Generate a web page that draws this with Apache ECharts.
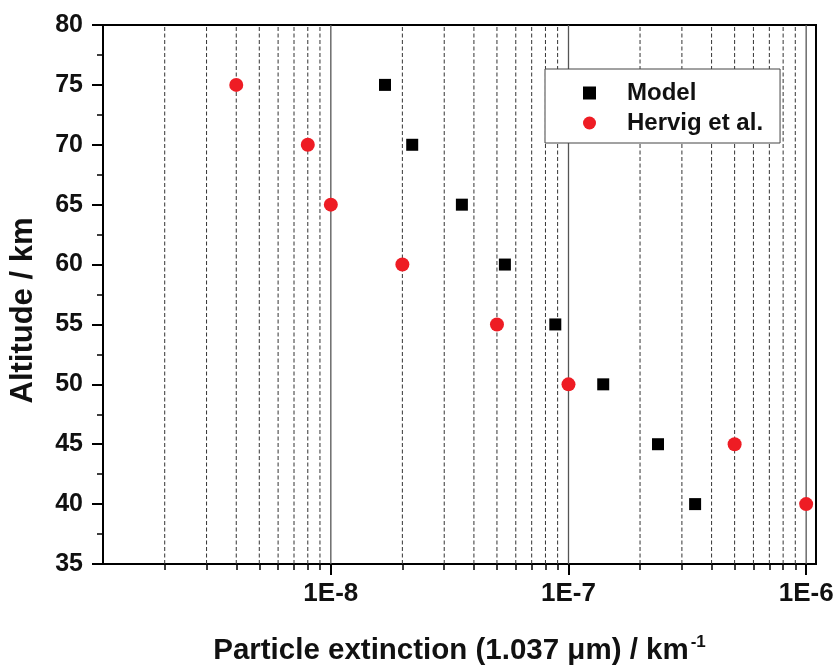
<!DOCTYPE html>
<html>
<head>
<meta charset="utf-8">
<script src="https://cdn.jsdelivr.net/npm/echarts@6/dist/echarts.min.js"></script>
<style>html,body{margin:0;padding:0;background:#fff}#c{width:838px;height:666px}</style>
</head>
<body>
<div id="c"></div>
<script>
// Data
var altitudes = [75, 70, 65, 60, 55, 50, 45, 40];
var modelExt = [1.69e-8, 2.2e-8, 3.56e-8, 5.4e-8, 8.8e-8, 1.4e-7, 2.38e-7, 3.41e-7];
var hervigExt = [4e-9, 8e-9, 1e-8, 2e-8, 5e-8, 1e-7, 5e-7, 1e-6];
var majorTicks = [1e-8, 1e-7, 1e-6];
var minorTicks = [2e-9,3e-9,4e-9,5e-9,6e-9,7e-9,8e-9,9e-9,
                  2e-8,3e-8,4e-8,5e-8,6e-8,7e-8,8e-8,9e-8,
                  2e-7,3e-7,4e-7,5e-7,6e-7,7e-7,8e-7,9e-7];
var xMin = 1.1e-9, xMax = 1.1e-6;
var yMin = 35, yMax = 80, yStep = 5;

var FONT = '"Liberation Sans", Arial, sans-serif';
var chart = echarts.init(document.getElementById('c'));

function pairs(xs){ return xs.map(function(x,i){ return [x, altitudes[i]]; }); }

function vline(v, dashed){
  return {
    type: 'line', xAxisIndex: 0, silent: true, symbol: 'none', z: 1,
    data: [[v, yMin], [v, yMax]],
    lineStyle: dashed ? {type: [4, 2.5], color: '#333', width: 1} : {type: 'solid', color: '#555', width: 1.3},
    emphasis: {disabled: true}, tooltip: {show: false}
  };
}
var gridSeries = minorTicks.map(function(v){ return vline(v, true); })
  .concat(majorTicks.map(function(v){ return vline(v, false); }));

chart.setOption({
  animation: false,
  backgroundColor: '#fff',
  grid: {left: 103, right: 22, top: 25, bottom: 102, outerBoundsMode: 'none', containLabel: false,
    show: true, borderColor: '#000', borderWidth: 2, backgroundColor: 'transparent'},
  legend: {
    orient: 'vertical',
    left: 545, top: 69,
    padding: [12, 17, 8, 38],
    itemGap: 6,
    itemWidth: 13, itemHeight: 13,
    borderColor: '#444', borderWidth: 1,
    backgroundColor: '#fff',
    textStyle: {fontFamily: FONT, fontWeight: 'bold', fontSize: 24, color: '#111', padding: [0, 0, 0, 26]},
    data: [{name: 'Model', icon: 'rect'}, {name: 'Hervig et al.', icon: 'circle', itemStyle: {color: '#ee1c24'}}]
  },
  xAxis: [{
    type: 'log', min: xMin, max: xMax, position: 'bottom',
    name: '{a|Particle extinction (1.037 μm) / km}{s|-1}',
    nameLocation: 'middle', nameGap: 70,
    nameTextStyle: {
      rich: {
        a: {fontFamily: FONT, fontWeight: 'bold', fontSize: 29.5, color: '#111'},
        s: {fontFamily: FONT, fontWeight: 'bold', fontSize: 17, color: '#111', verticalAlign: 'top', padding: [0, 0, 17, 2]}
      }
    },
    axisLine: {show: true, lineStyle: {color: '#000', width: 2}},
    axisTick: {show: true, customValues: minorTicks, length: 6, lineStyle: {color: '#000', width: 1.5}},
    axisLabel: {show: false},
    splitLine: {show: false}
  }, {
    type: 'log', min: xMin, max: xMax, position: 'bottom', offset: 0,
    axisLine: {show: false},
    axisTick: {show: true, customValues: majorTicks, length: 11, lineStyle: {color: '#000', width: 2}},
    axisLabel: {show: true, customValues: majorTicks, margin: 17, fontFamily: FONT, fontWeight: 'bold', fontSize: 26, color: '#111',
      formatter: function(v){ return '1E' + Math.round(Math.log10(v)); }},
    splitLine: {show: false}
  }],
  yAxis: {
    type: 'value', min: yMin, max: yMax, interval: yStep,
    name: 'Altitude / km', nameLocation: 'middle', nameRotate: 90, nameGap: 64,
    nameTextStyle: {fontFamily: FONT, fontWeight: 'bold', fontSize: 31, color: '#111', padding: [0, 32, 0, 0]},
    axisLine: {show: true, lineStyle: {color: '#000', width: 2}},
    axisTick: {show: true, length: 11, lineStyle: {color: '#000', width: 2}},
    minorTick: {show: true, splitNumber: 2, length: 6, lineStyle: {color: '#000', width: 1.5}},
    axisLabel: {margin: 20, fontFamily: FONT, fontWeight: 'bold', fontSize: 25, color: '#111'},
    splitLine: {show: false}
  },
  series: gridSeries.concat([{
    name: 'Model', type: 'scatter', xAxisIndex: 0,
    symbol: 'rect', symbolSize: 12,
    itemStyle: {color: '#000', opacity: 1},
    data: pairs(modelExt),
    z: 3
  }, {
    name: 'Hervig et al.', type: 'scatter', xAxisIndex: 0,
    symbol: 'circle', symbolSize: 14,
    itemStyle: {color: '#ee1c24', opacity: 1},
    data: pairs(hervigExt),
    z: 4
  }])
});
</script>
</body>
</html>
